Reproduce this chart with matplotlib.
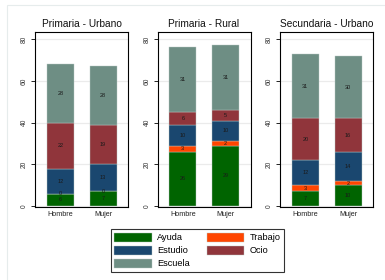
import matplotlib
matplotlib.use("Agg")
import matplotlib.pyplot as plt
from matplotlib.patches import Rectangle, Patch
import numpy as np

plt.rcParams['font.family'] = ['Liberation Sans', 'DejaVu Sans']

panels = ["Primaria - Urbano", "Primaria - Rural", "Secundaria - Urbano"]
groups = ["Hombre", "Mujer"]
series = ["Ayuda", "Trabajo", "Estudio", "Ocio", "Escuela"]
colors = ["#006400", "#ff4500", "#1a476f", "#90353b", "#6e8e84"]

# values[panel][series] -> [Hombre, Mujer]
ayuda   = [[6, 7],   [26, 29], [7, 10]]
trabajo = [[0, 0],   [3, 2],   [3, 2]]
estudio = [[12, 13], [10, 10], [12, 14]]
ocio    = [[22, 19], [6, 5],   [20, 16]]
escuela = [[28, 28], [31, 31], [31, 30]]
yticks = [0, 20, 40, 60, 80]

data = [ayuda, trabajo, estudio, ocio, escuela]

W, H = 385, 280
fig = plt.figure(figsize=(W / 100, H / 100), dpi=100)
fig.patch.set_facecolor("white")

# faint outer frame
fig.patches.append(Rectangle((7 / W, -0.01), 1.0, 1 - 5 / H + 0.01, transform=fig.transFigure,
                             fill=False, edgecolor="#e6ecec", linewidth=0.8))

lefts = [35, 157.5, 280]
aw, top, bot = 93, 32, 206.5
x = np.arange(len(groups))
for p, name in enumerate(panels):
    ax = fig.add_axes([lefts[p] / W, (H - bot) / H, aw / W, (bot - top) / H])
    ax.set_facecolor("white")
    bottom = np.zeros(len(groups))
    for s in range(len(series)):
        vals = np.array(data[s][p], dtype=float)
        ax.bar(x, vals, 0.63, bottom=bottom, color=colors[s], edgecolor="#b8c8c4",
               linewidth=0.3, zorder=3)
        for i in range(len(groups)):
            ax.text(x[i], bottom[i] + vals[i] / 2, f"{int(vals[i])}", ha="center", va="center",
                    fontsize=4.0, color="#1a1a1a", zorder=4)
        bottom += vals
    ax.set_xlim(-0.59, 1.58)
    ax.set_ylim(-0.2, 83.4)
    ax.set_yticks(yticks)
    ax.set_yticklabels([str(t) for t in yticks], rotation=90, va="center", fontsize=4.8, color="#333333")
    ax.set_xticks(x)
    ax.set_xticklabels(groups, fontsize=5.2, color="#222222")
    ax.tick_params(axis="y", length=3, width=0.6, pad=2)
    ax.tick_params(axis="x", length=0, pad=3)
    ax.yaxis.grid(True, color="#ebebeb", linewidth=0.9, zorder=0)
    ax.set_axisbelow(True)
    for sp in ax.spines.values():
        sp.set_linewidth(0.8)
        sp.set_color("black")
    ax.set_title(name, fontsize=7.3, pad=3.5, color="#111111")

order = [0, 2, 4, 1, 3]
handles = [Patch(facecolor=colors[i], edgecolor="#b8c8c4", linewidth=0.3) for i in order]
labels = [series[i] for i in order]
leg = fig.legend(handles, labels, ncol=2, loc="center", bbox_to_anchor=(197.5 / W, (H - 250.5) / H),
                 fontsize=6.6, frameon=True, fancybox=False, handlelength=4.1, handleheight=1.1,
                 columnspacing=1.8, labelspacing=0.38, handletextpad=0.6, borderpad=0.4)
leg.get_frame().set_edgecolor("black")
leg.get_frame().set_linewidth(0.8)

fig.savefig("out.png", dpi=100, facecolor="white")
